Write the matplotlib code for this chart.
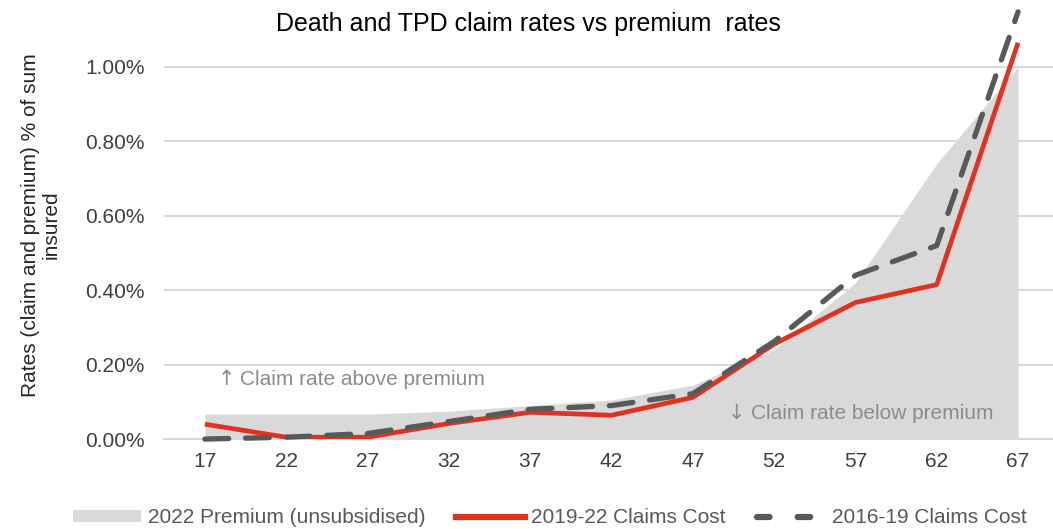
import matplotlib
matplotlib.use("Agg")
import matplotlib.pyplot as plt
from matplotlib.lines import Line2D
from matplotlib.patches import Patch
import numpy as np

plt.rcParams["font.family"] = ["Liberation Sans", "DejaVu Sans"]

# ---------------------------------------------------------------------------
# Data: rates as % of sum insured, by age
# ---------------------------------------------------------------------------
ages = ["17", "22", "27", "32", "37", "42", "47", "52", "57", "62", "67"]
premium_2022 = [0.067, 0.067, 0.067, 0.075, 0.090, 0.105, 0.145, 0.240, 0.420, 0.740, 1.000]
claims_2019_22 = [0.040, 0.005, 0.005, 0.042, 0.072, 0.064, 0.112, 0.255, 0.367, 0.415, 1.065]
claims_2016_19 = [0.000, 0.005, 0.015, 0.047, 0.080, 0.090, 0.122, 0.262, 0.440, 0.520, 1.148]

GRID = "#d9d9d9"
AREA = "#d9d9d9"
RED = "#e2321f"
DARK = "#595959"
NOTE = "#8c8c8c"
FS = 15

fig = plt.figure(figsize=(10.53, 5.29), dpi=100)
ax = fig.add_axes([0.156, 0.170, 0.844, 0.809])

x = np.arange(len(ages))
ax.fill_between(x, 0, premium_2022, color=AREA, lw=0, zorder=1)
ax.plot(x, claims_2019_22, color=RED, lw=3.4, zorder=3, solid_capstyle="butt")
ax.plot(x, claims_2016_19, color=DARK, lw=3.8, zorder=4,
        linestyle=(0, (4.5, 3.2)), dash_capstyle="round", clip_on=False)

ax.set_xlim(-0.5, 10.43)
ax.set_ylim(0, 1.15)
yticks = [0, 0.2, 0.4, 0.6, 0.8, 1.0]
ax.set_yticks(yticks)
ax.set_yticklabels([f"{v:.2f}%" for v in yticks])
ax.set_xticks(x)
ax.set_xticklabels(ages)
ax.tick_params(axis="both", length=0, labelsize=FS, colors="#404040", pad=9)
ax.tick_params(axis="y", pad=14)

ax.grid(axis="y", color=GRID, lw=1.5, zorder=0)
ax.set_axisbelow(True)
for side in ["top", "right", "left"]:
    ax.spines[side].set_visible(False)
ax.spines["bottom"].set_color(GRID)
ax.spines["bottom"].set_linewidth(1.5)

ax.set_ylabel("Rates (claim and premium) % of sum\ninsured", fontsize=FS,
              color="#262626", labelpad=18, linespacing=1.05)

# region notes, arrows drawn in DejaVu for a fuller glyph
ax.text(0.16, 0.161, "\u2191", fontsize=FS, color=NOTE, va="center", ha="left",
        family="DejaVu Sans", zorder=5)
ax.text(0.43, 0.161, "Claim rate above premium", fontsize=FS, color=NOTE,
        va="center", ha="left", zorder=5)
ax.text(6.43, 0.070, "\u2193", fontsize=FS, color=NOTE, va="center", ha="left",
        family="DejaVu Sans", zorder=5)
ax.text(6.72, 0.070, "Claim rate below premium", fontsize=FS, color=NOTE,
        va="center", ha="left", zorder=5)

fig.text(0.502, 0.955, "Death and TPD claim rates vs premium  rates", fontsize=18,
         color="#000000", ha="center", va="center")

handles = [
    Patch(facecolor=AREA, edgecolor="none"),
    Line2D([], [], color=RED, lw=4.5),
    Line2D([], [], color=DARK, lw=4.5, linestyle=(0, (2.0, 4.5)), dash_capstyle="round"),
]
labels = ["2022 Premium (unsubsidised)", "2019-22 Claims Cost", "2016-19 Claims Cost"]
leg = fig.legend(handles, labels, loc="center", bbox_to_anchor=(0.522, 0.021),
                 ncol=3, frameon=False, fontsize=FS, handlelength=3.3,
                 handleheight=0.45, columnspacing=1.5, handletextpad=0.3,
                 borderpad=0, borderaxespad=0)
for t in leg.get_texts():
    t.set_color(DARK)

fig.savefig("out.png", dpi=100)
